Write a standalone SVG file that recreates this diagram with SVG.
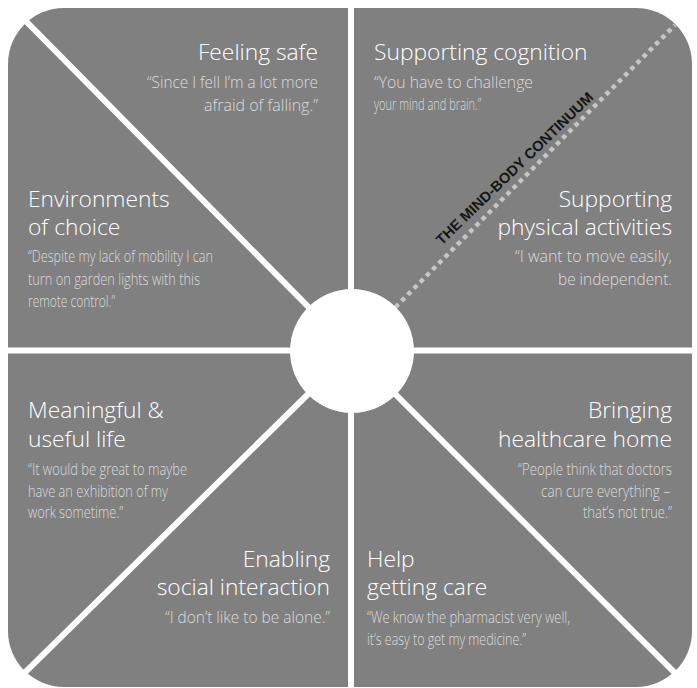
<svg xmlns="http://www.w3.org/2000/svg" width="697" height="688" viewBox="0 0 697 688">
<style>
.t{font-family:"Open Sans","Liberation Sans",sans-serif;font-size:22.8px;font-weight:300;fill:#ffffff}
.q{font-family:"Open Sans","Liberation Sans",sans-serif;font-size:16px;font-weight:300;fill:#dcdcdc}
.e{text-anchor:end}
.sep{stroke:#ffffff;stroke-width:6;fill:none}
</style>
<rect x="0" y="0" width="697" height="688" fill="#ffffff"/>
<rect x="8" y="8" width="684" height="679" rx="56" ry="56" fill="#808080"/>
<g id="connectors">
<line class="sep" x1="351" y1="0" x2="351" y2="688"/>
<line class="sep" x1="0" y1="350.5" x2="697" y2="350.5"/>
<line class="sep" x1="5" y1="0" x2="352" y2="351"/>
<line class="sep" x1="352" y1="351" x2="697" y2="695"/>
<line class="sep" x1="352" y1="351" x2="0" y2="697"/>
<line x1="352" y1="351" x2="675" y2="25" stroke="#c6c6c6" stroke-width="4.5" stroke-dasharray="4.5 4.3"/>
</g>
<g id="hub"><circle cx="352" cy="351" r="62" fill="#ffffff"/></g>
<g id="mind-body"><text x="518" y="172" transform="rotate(-44 518 172)" text-anchor="middle" textLength="212" lengthAdjust="spacingAndGlyphs" font-family="'Liberation Sans Narrow','Liberation Sans',sans-serif" font-size="14.5" font-weight="600" fill="#151515">THE MIND-BODY CONTINUUM</text></g>
<g id="feeling-safe">
<text class="t e" x="318" y="60">Feeling safe</text>
<text class="q e" x="318" y="88" textLength="171" lengthAdjust="spacingAndGlyphs">“Since I fell I’m a lot more</text>
<text class="q e" x="318" y="111" textLength="114" lengthAdjust="spacingAndGlyphs">afraid of falling.”</text>
</g>
<g id="environments-of-choice">
<text class="t" x="28" y="207">Environments</text>
<text class="t" x="28" y="235">of choice</text>
<text class="q" x="28" y="262" textLength="185" lengthAdjust="spacingAndGlyphs">“Despite my lack of mobility I can</text>
<text class="q" x="28" y="285" textLength="172" lengthAdjust="spacingAndGlyphs">turn on garden lights with this</text>
<text class="q" x="28" y="307" textLength="87" lengthAdjust="spacingAndGlyphs">remote control.”</text>
</g>
<g id="supporting-cognition">
<text class="t" x="374" y="60">Supporting cognition</text>
<text class="q" x="374" y="88" textLength="159" lengthAdjust="spacingAndGlyphs">“You have to challenge</text>
<text class="q" x="374" y="110" textLength="107" lengthAdjust="spacingAndGlyphs">your mind and brain.”</text>
</g>
<g id="supporting-physical-activities">
<text class="t e" x="672" y="207">Supporting</text>
<text class="t e" x="672" y="235">physical activities</text>
<text class="q e" x="672" y="262" textLength="157" lengthAdjust="spacingAndGlyphs">“I want to move easily,</text>
<text class="q e" x="672" y="285" textLength="114" lengthAdjust="spacingAndGlyphs">be independent.</text>
</g>
<g id="meaningful-useful-life">
<text class="t" x="28" y="418">Meaningful &amp;</text>
<text class="t" x="28" y="447">useful life</text>
<text class="q" x="28" y="475" textLength="159" lengthAdjust="spacingAndGlyphs">“It would be great to maybe</text>
<text class="q" x="28" y="497" textLength="140" lengthAdjust="spacingAndGlyphs">have an exhibition of my</text>
<text class="q" x="28" y="518" textLength="95" lengthAdjust="spacingAndGlyphs">work sometime.”</text>
</g>
<g id="enabling-social-interaction">
<text class="t e" x="330" y="567">Enabling</text>
<text class="t e" x="330" y="595">social interaction</text>
<text class="q e" x="330" y="623" textLength="165" lengthAdjust="spacingAndGlyphs">“I don’t like to be alone.”</text>
</g>
<g id="bringing-healthcare-home">
<text class="t e" x="672" y="418">Bringing</text>
<text class="t e" x="672" y="447">healthcare home</text>
<text class="q e" x="672" y="475" textLength="154" lengthAdjust="spacingAndGlyphs">“People think that doctors</text>
<text class="q e" x="670" y="497" textLength="129" lengthAdjust="spacingAndGlyphs">can cure everything –</text>
<text class="q e" x="672" y="518" textLength="89" lengthAdjust="spacingAndGlyphs">that’s not true.”</text>
</g>
<g id="help-getting-care">
<text class="t" x="367" y="567">Help</text>
<text class="t" x="367" y="595">getting care</text>
<text class="q" x="367" y="623" textLength="203" lengthAdjust="spacingAndGlyphs">“We know the pharmacist very well,</text>
<text class="q" x="367" y="645" textLength="159" lengthAdjust="spacingAndGlyphs">it’s easy to get my medicine.”</text>
</g>
</svg>
